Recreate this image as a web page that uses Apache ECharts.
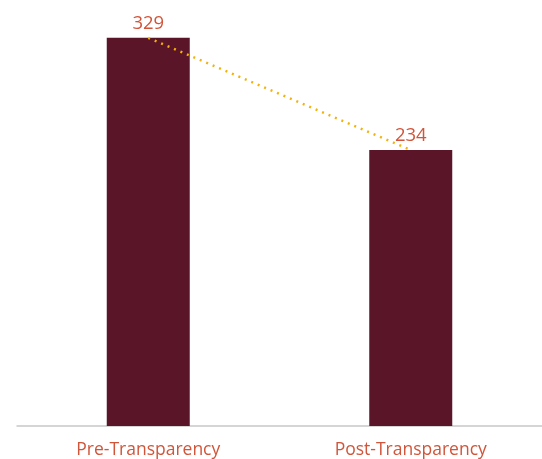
<!DOCTYPE html>
<html><head><meta charset="utf-8">
<script src="https://cdn.jsdelivr.net/npm/echarts@6/dist/echarts.min.js"></script>
<style>html,body{margin:0;padding:0;background:#fff}#c{width:542px;height:459px}</style>
</head><body><div id="c"></div>
<script>
const categories = ["Pre-Transparency", "Post-Transparency"];
const values = [329, 234];

const chart = echarts.init(document.getElementById('c'));
chart.setOption({
  animation: false,
  grid: { left: 17, right: 0, top: 1.3, bottom: 31 },
  xAxis: {
    type: 'category', data: categories,
    axisLine: { lineStyle: { color: '#c8c8c8', width: 1.5 } },
    axisTick: { show: false },
    axisLabel: { color: '#d0553a', fontSize: 17.5, fontFamily: 'Open Sans', margin: 15 }
  },
  yAxis: { type: 'value', min: 0, max: 360, show: false, splitLine: { show: false } },
  series: [
    {
      type: 'bar', data: values, barWidth: 83,
      itemStyle: { color: '#5a1628' },
      label: { show: true, position: 'top', distance: 5, color: '#d0553a', fontSize: 18.5, fontFamily: 'Open Sans' }
    },
    {
      type: 'line', data: values, symbol: 'none', z: 5,
      lineStyle: { color: '#f2b20a', width: 2.5, type: [2, 5] }
    }
  ]
});
</script></body></html>
